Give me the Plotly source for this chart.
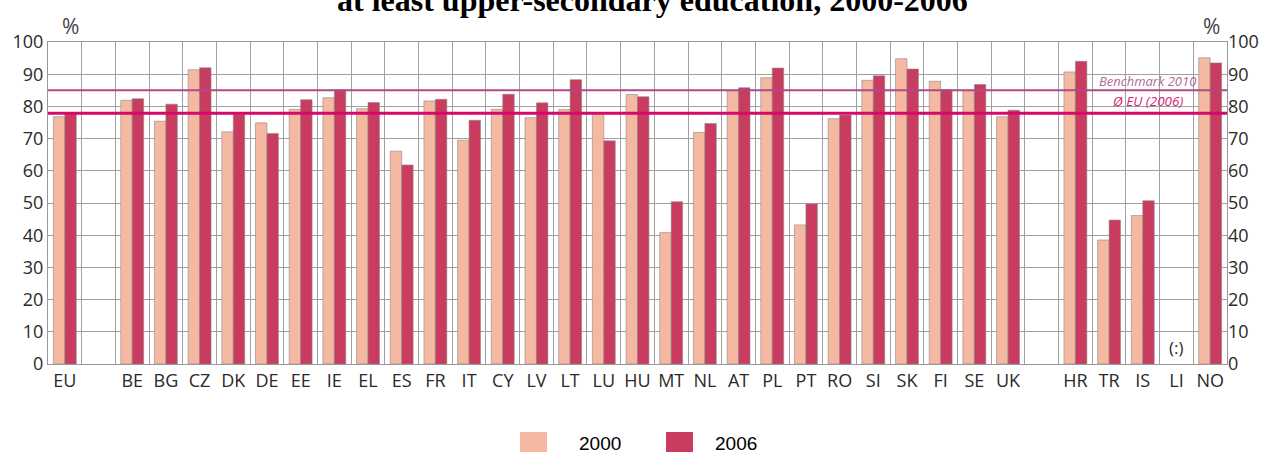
import plotly.graph_objects as go

categories = ["EU", "", "BE", "BG", "CZ", "DK", "DE", "EE", "IE", "EL", "ES", "FR", "IT", "CY",
              "LV", "LT", "LU", "HU", "MT", "NL", "AT", "PL", "PT", "RO", "SI", "SK", "FI",
              "SE", "UK", " ", "HR", "TR", "IS", "LI", "NO"]
values_2000 = [76.8, None, 81.9, 75.4, 91.4, 72.1, 74.9, 79.1, 82.7, 79.3, 66.1, 81.7, 69.5, 79.1,
               76.5, 79.0, 77.8, 83.7, 40.8, 71.9, 85.0, 88.9, 43.2, 76.2, 88.1, 94.8, 87.8,
               85.0, 76.8, None, 90.7, 38.5, 46.1, None, 95.1]
values_2006 = [78.0, None, 82.4, 80.7, 92.0, 77.6, 71.6, 82.1, 85.2, 81.2, 61.8, 82.2, 75.7, 83.8,
               81.1, 88.3, 69.3, 83.0, 50.4, 74.7, 85.8, 91.9, 49.7, 77.3, 89.5, 91.6, 85.2,
               86.8, 78.8, None, 94.0, 44.7, 50.7, None, 93.5]
benchmark_2010 = 85.0
eu_avg_2006 = 77.9
y_ticks = [0, 10, 20, 30, 40, 50, 60, 70, 80, 90, 100]

x_pos = list(range(len(categories)))

c2000 = "#F5B8A0"
c2006 = "#C93C60"
tick_font = dict(family="Open Sans", size=18, color="#2a2a2a")

fig = go.Figure()
fig.add_trace(go.Bar(x=x_pos, y=values_2000, name="2000", marker=dict(color=c2000, line=dict(color="#8a8a8a", width=0.6)), showlegend=False))
fig.add_trace(go.Bar(x=x_pos, y=values_2006, name="2006", marker=dict(color=c2006, line=dict(color="#8a8a8a", width=0.6)), showlegend=False))
fig.add_trace(go.Scatter(x=[0], y=[0], yaxis="y2", mode="markers", marker=dict(opacity=0), showlegend=False, hoverinfo="skip"))

fig.add_hline(y=benchmark_2010, line=dict(color="#AE4A86", width=2))
fig.add_hline(y=eu_avg_2006, line=dict(color="#D6086A", width=3))

fig.update_layout(
    width=1271, height=452,
    margin=dict(l=48, r=44, t=42, b=88, autoexpand=False),
    paper_bgcolor="white", plot_bgcolor="white",
    barmode="group", bargap=0.32, bargroupgap=0,
    xaxis=dict(range=[-0.5, len(categories) - 0.5], tickmode="array", tickvals=x_pos, ticktext=categories,
               showgrid=False, tickfont=tick_font, ticks="", zeroline=False, automargin=False,
               showline=True, linecolor="#999999", linewidth=1, mirror=True,
               minor=dict(tick0=-0.5, dtick=1, showgrid=True, gridcolor="#a0a0a0", gridwidth=1)),
    yaxis=dict(range=[0, 100], tickvals=y_ticks, showgrid=True, gridcolor="#a0a0a0", gridwidth=1,
               tickfont=tick_font, zeroline=False, showline=True, linecolor="#999999", linewidth=1, mirror=True,
               ticks="", automargin=False),
    yaxis2=dict(range=[0, 100], tickvals=y_ticks, overlaying="y", side="right", showgrid=False,
                tickfont=tick_font, zeroline=False, ticks="", automargin=False),
    font=dict(family="Open Sans"),
)

fig.add_annotation(text="<b>at least upper-secondary education, 2000-2006</b>", xref="paper", yref="paper",
                   x=(652 - 48) / 1179, y=1 + 22 / 322, yanchor="bottom", showarrow=False,
                   font=dict(family="Liberation Serif", size=32, color="black"))
fig.add_annotation(text="%", xref="paper", yref="paper", x=12 / 1179, y=1 + 16 / 322, yanchor="middle",
                   showarrow=False, font=dict(family="Open Sans", size=21, color="#444444"))
fig.add_annotation(text="%", xref="paper", yref="paper", x=1 - 5 / 1179, y=1 + 16 / 322, yanchor="middle",
                   showarrow=False, font=dict(family="Open Sans", size=21, color="#444444"))
fig.add_annotation(text="<i>Benchmark 2010</i>", xref="x", yref="y", x=32.15, y=88.0,
                   showarrow=False, font=dict(family="Open Sans", size=13, color="#B06A9A"))
fig.add_annotation(text="<i>Ø EU (2006)</i>", xref="x", yref="y", x=32.15, y=81.7,
                   showarrow=False, font=dict(family="Open Sans", size=13.5, color="#D02478"))
fig.add_annotation(text="(:)", xref="x", yref="y", x=categories.index("LI"), y=5,
                   showarrow=False, font=dict(family="Open Sans", size=17, color="#2a2a2a"))

# manual legend
fig.add_shape(type="rect", xref="paper", yref="paper", x0=(520 - 48) / 1179, x1=(547 - 48) / 1179,
              y0=-(432 - 364) / 322 - 22 / 322, y1=-(432 - 364) / 322, fillcolor=c2000, line=dict(width=0))
fig.add_shape(type="rect", xref="paper", yref="paper", x0=(666 - 48) / 1179, x1=(693 - 48) / 1179,
              y0=-(432 - 364) / 322 - 22 / 322, y1=-(432 - 364) / 322, fillcolor=c2006, line=dict(width=0))
fig.add_annotation(text="2000", xref="paper", yref="paper", x=(577 - 48) / 1179, y=-(443 - 364) / 322,
                   xanchor="left", yanchor="middle", showarrow=False,
                   font=dict(family="Liberation Sans", size=19, color="black"))
fig.add_annotation(text="2006", xref="paper", yref="paper", x=(713 - 48) / 1179, y=-(443 - 364) / 322,
                   xanchor="left", yanchor="middle", showarrow=False,
                   font=dict(family="Liberation Sans", size=19, color="black"))

fig.write_html("out.html", config={"displayModeBar": False},
               post_script="document.body.style.margin='0';")
